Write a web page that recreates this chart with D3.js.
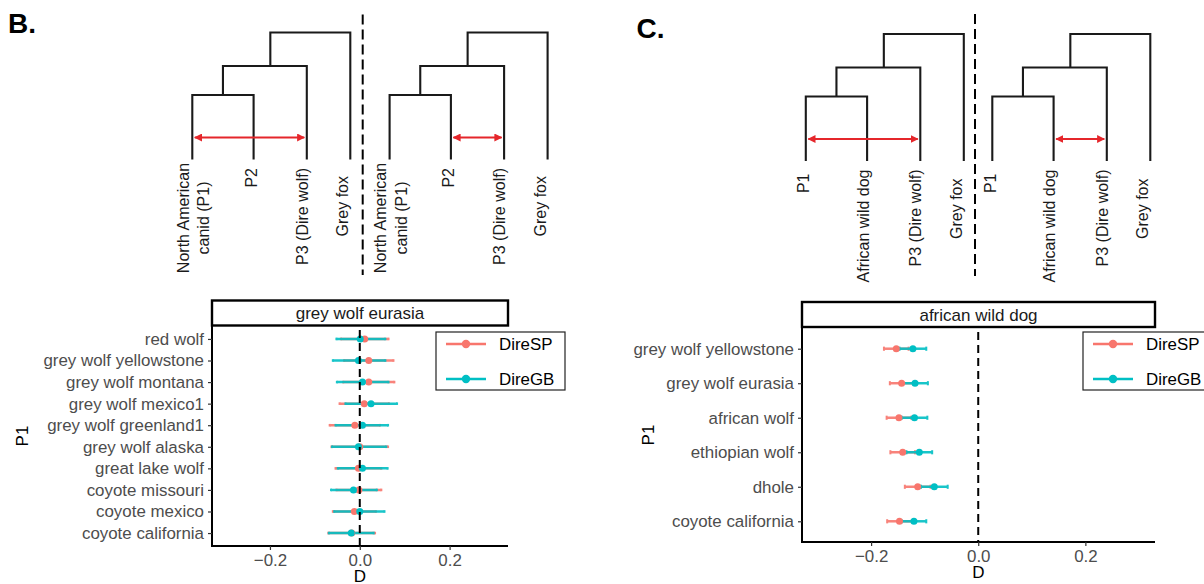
<!DOCTYPE html>
<html>
<head>
<meta charset="utf-8">
<script src="https://cdn.jsdelivr.net/npm/d3@7"></script>
<style>
  body { margin: 0; background: #fff; }
  svg { display: block; }
  text { font-family: "Liberation Sans", Arial, Helvetica, sans-serif; }
</style>
</head>
<body>
<svg id="fig" width="1204" height="584"></svg>
<script>
// ---- Panel B: P2 = grey wolf eurasia ----
const catsB = ["red wolf", "grey wolf yellowstone", "grey wolf montana", "grey wolf mexico1",
  "grey wolf greenland1", "grey wolf alaska", "great lake wolf", "coyote missouri",
  "coyote mexico", "coyote california"];
const dSpB   = [0.011, 0.020, 0.020, 0.010, -0.011, 0.000, -0.003, -0.002, -0.012, -0.018];
const loSpB  = [-0.042, -0.035, -0.037, -0.045, -0.067, -0.063, -0.054, -0.052, -0.060, -0.070];
const hiSpB  = [0.064, 0.075, 0.077, 0.065, 0.045, 0.063, 0.048, 0.048, 0.036, 0.034];
const dGbB   = [0.001, -0.003, 0.006, 0.025, 0.006, -0.003, 0.006, -0.014, 0.000, -0.019];
const loGbB  = [-0.052, -0.060, -0.051, -0.032, -0.054, -0.062, -0.049, -0.064, -0.057, -0.069];
const hiGbB  = [0.057, 0.057, 0.064, 0.083, 0.063, 0.059, 0.062, 0.038, 0.055, 0.031];

// ---- Panel C: P2 = african wild dog ----
const catsC = ["grey wolf yellowstone", "grey wolf eurasia", "african wolf", "ethiopian wolf",
  "dhole", "coyote california"];
const dSpC   = [-0.153, -0.143, -0.148, -0.141, -0.113, -0.147];
const loSpC  = [-0.176, -0.165, -0.171, -0.164, -0.137, -0.170];
const hiSpC  = [-0.130, -0.121, -0.125, -0.118, -0.089, -0.124];
const dGbC   = [-0.122, -0.118, -0.119, -0.110, -0.082, -0.120];
const loGbC  = [-0.147, -0.142, -0.143, -0.134, -0.107, -0.143];
const hiGbC  = [-0.097, -0.094, -0.095, -0.086, -0.057, -0.097];

const seriesNames  = ["DireSP", "DireGB"];
const seriesColors = ["#F8766D", "#00BFC4"];
const xTickValues  = [-0.2, 0, 0.2];
const xTickLabels  = ["\u22120.2", "0.0", "0.2"];
const xDomain      = [-0.329, 0.330];

const svg = d3.select("#fig");

// ---------- dot-and-whisker panel ----------
function drawPanel(p) {
  const g = svg.append("g");
  const x = d3.scaleLinear().domain(xDomain).range([p.left, p.right]);
  const y = d3.scalePoint().domain(p.cats).range([p.top, p.bottom]).padding(0.6);
  const cap = y.step() * 0.06;

  // strip
  g.append("rect").attr("x", p.left).attr("y", p.stripTop)
    .attr("width", p.right - p.left).attr("height", p.stripBottom - p.stripTop)
    .attr("fill", "#fff").attr("stroke", "#000").attr("stroke-width", 2.4);
  g.append("text").attr("x", (p.left + p.right) / 2).attr("y", (p.stripTop + p.stripBottom) / 2)
    .attr("dy", "0.36em").attr("text-anchor", "middle").attr("font-size", 17)
    .attr("fill", "#1a1a1a").text(p.title);

  const series = [
    { d: p.sp, lo: p.spLo, hi: p.spHi, color: seriesColors[0] },
    { d: p.gb, lo: p.gbLo, hi: p.gbHi, color: seriesColors[1] }
  ];

  // error bars (both series) then points (both series)
  series.forEach(s => {
    const eb = g.append("g").attr("stroke", s.color).attr("stroke-width", 2.5)
      .attr("fill", "none").attr("opacity", 0.9);
    p.cats.forEach((c, i) => {
      const yy = y(c);
      eb.append("line").attr("x1", x(s.lo[i])).attr("x2", x(s.hi[i])).attr("y1", yy).attr("y2", yy);
      [s.lo[i], s.hi[i]].forEach(v => {
        eb.append("line").attr("x1", x(v)).attr("x2", x(v))
          .attr("y1", yy - cap).attr("y2", yy + cap).attr("stroke-width", 2);
      });
    });
  });
  series.forEach(s => {
    g.append("g").selectAll("circle").data(p.cats).join("circle")
      .attr("cx", (c, i) => x(s.d[i])).attr("cy", c => y(c))
      .attr("r", 3.5).attr("fill", s.color);
  });

  // zero reference line
  g.append("line").attr("x1", x(0)).attr("x2", x(0))
    .attr("y1", p.top + 4).attr("y2", p.bottom)
    .attr("stroke", "#000").attr("stroke-width", 2).attr("stroke-dasharray", "8,5");

  // axes
  const yAxis = g.append("g").attr("transform", `translate(${p.left},0)`)
    .call(d3.axisLeft(y).tickSize(4).tickPadding(4));
  const xAxis = g.append("g").attr("transform", `translate(0,${p.bottom})`)
    .call(d3.axisBottom(x).tickValues(xTickValues).tickFormat((d, i) => xTickLabels[i])
      .tickSize(4).tickPadding(4));
  [yAxis, xAxis].forEach(a => {
    a.select(".domain").attr("stroke", "#000").attr("stroke-width", 2);
    a.selectAll(".tick line").attr("stroke", "#333").attr("stroke-width", 1.2);
    a.selectAll(".tick text").attr("fill", "#4D4D4D").attr("font-size", 16.9)
      .attr("font-family", '"Liberation Sans", Arial, sans-serif');
  });
  // no outer tick caps on the domain paths
  yAxis.select(".domain").attr("d", `M0,${p.top - 1}V${p.bottom}`);
  xAxis.select(".domain").attr("d", `M${p.left - 1},0H${p.right}`);

  // axis titles
  g.append("text").attr("x", (p.left + p.right) / 2).attr("y", p.bottom + 35.5)
    .attr("text-anchor", "middle").attr("font-size", 17).attr("fill", "#000").text("D");
  g.append("text").attr("transform", `translate(${p.yTitleX},${(p.top + p.bottom) / 2}) rotate(-90)`)
    .attr("text-anchor", "middle").attr("dy", "0.36em").attr("font-size", 17)
    .attr("fill", "#000").text("P1");

  // legend
  const lx = p.right - 72, ly = 332;
  const lg = g.append("g").attr("transform", `translate(${lx},${ly})`);
  lg.append("rect").attr("width", 129).attr("height", 58)
    .attr("fill", "#fff").attr("stroke", "#222").attr("stroke-width", 1.2);
  seriesNames.forEach((name, i) => {
    const ky = 12 + i * 35;
    lg.append("line").attr("x1", 10).attr("x2", 50).attr("y1", ky).attr("y2", ky)
      .attr("stroke", seriesColors[i]).attr("stroke-width", 2.5);
    lg.append("circle").attr("cx", 30).attr("cy", ky).attr("r", 4.2).attr("fill", seriesColors[i]);
    lg.append("text").attr("x", 63).attr("y", ky).attr("dy", "0.36em")
      .attr("font-size", 16.9).attr("fill", "#000").text(name);
  });
}

drawPanel({
  title: "grey wolf eurasia", cats: catsB,
  sp: dSpB, spLo: loSpB, spHi: hiSpB, gb: dGbB, gbLo: loGbB, gbHi: hiGbB,
  left: 212, right: 508, top: 326, bottom: 546, stripTop: 300.5, stripBottom: 325.5, yTitleX: 22
});
drawPanel({
  title: "african wild dog", cats: catsC,
  sp: dSpC, spLo: loSpC, spHi: hiSpC, gb: dGbC, gbLo: loGbC, gbHi: hiGbC,
  left: 802, right: 1155, top: 328, bottom: 542, stripTop: 302, stripBottom: 327, yTitleX: 648
});

// ---------- four-taxon trees ----------
const leafOffsets = [0, 61.3, 114.5, 158];
const arrowRed = "#E5262B";

svg.append("defs").append("marker").attr("id", "head")
  .attr("viewBox", "0 0 10 10").attr("refX", 9).attr("refY", 5)
  .attr("markerWidth", 4).attr("markerHeight", 4).attr("orient", "auto-start-reverse")
  .attr("markerUnits", "strokeWidth")
  .append("path").attr("d", "M0,0L10,5L0,10Z").attr("fill", arrowRed);

function drawTree(x0, yTop, leafLabels, arrowPair) {
  const g = svg.append("g");
  const lx = leafOffsets.map(o => x0 + o);
  const yLeaf = yTop + 127;
  const levelY = [yTop, yTop + 33.5, yTop + 62.5];
  // (((A,B),C),D)
  const n1 = { x: lx[0] + 0.5 * (lx[1] - lx[0]), y: levelY[2] };
  const n2 = { x: n1.x + 0.565 * (lx[2] - n1.x), y: levelY[1] };
  const joins = [
    { a: { x: lx[0], y: yLeaf }, b: { x: lx[1], y: yLeaf }, y: levelY[2] },
    { a: n1, b: { x: lx[2], y: yLeaf }, y: levelY[1] },
    { a: n2, b: { x: lx[3], y: yLeaf }, y: levelY[0] }
  ];
  const path = d3.path();
  joins.forEach(j => {
    path.moveTo(j.a.x, j.a.y); path.lineTo(j.a.x, j.y);
    path.lineTo(j.b.x, j.y); path.lineTo(j.b.x, j.b.y);
  });
  g.append("path").attr("d", path.toString()).attr("fill", "none")
    .attr("stroke", "#1a1a1a").attr("stroke-width", 2.1).attr("stroke-linejoin", "miter");

  // introgression arrow
  const ay = yTop + 105;
  g.append("line").attr("x1", lx[arrowPair[0]] + 2.5).attr("x2", lx[arrowPair[1]] - 2.5)
    .attr("y1", ay).attr("y2", ay).attr("stroke", arrowRed).attr("stroke-width", 2)
    .attr("marker-start", "url(#head)").attr("marker-end", "url(#head)");

  // leaf labels (vertical)
  leafLabels.forEach((lab, i) => {
    if (lab.lines.length === 2) {
      const cy = yTop + 185.5;
      lab.lines.forEach((t, k) => {
        g.append("text").attr("transform", `translate(${lx[i] + lab.dx[k]},${cy}) rotate(-90)`)
          .attr("text-anchor", "middle").attr("font-size", 16).attr("fill", "#1a1a1a").text(t);
      });
    } else {
      g.append("text")
        .attr("transform", `translate(${lx[i] + lab.dx[0]},${yTop + 135.5 + (lab.drop || 0)}) rotate(-90)`)
        .attr("text-anchor", "end").attr("font-size", 16).attr("fill", "#1a1a1a").text(lab.lines[0]);
    }
  });
}

const labelsB = [
  { lines: ["North American", "canid (P1)"], dx: [-3.7, 17] },
  { lines: ["P2"], dx: [3] },
  { lines: ["P3 (Dire wolf)"], dx: [1] },
  { lines: ["Grey fox"], dx: [-2], drop: 8 }
];
const labelsC = [
  { lines: ["P1"], dx: [3.5], drop: 4 },
  { lines: ["African wild dog"], dx: [1.5] },
  { lines: ["P3 (Dire wolf)"], dx: [1] },
  { lines: ["Grey fox"], dx: [-2], drop: 9 }
];

drawTree(192.3, 32.5, labelsB, [0, 2]);
drawTree(389.6, 32.5, labelsB, [1, 2]);
drawTree(805.8, 34, labelsC, [0, 2]);
drawTree(992.3, 34, labelsC, [1, 2]);

// separators between the two trees of each panel
[[362.7, 14.5, 275], [975, 14, 276]].forEach(([sx, y1, y2]) => {
  svg.append("line").attr("x1", sx).attr("x2", sx).attr("y1", y1).attr("y2", y2)
    .attr("stroke", "#000").attr("stroke-width", 2).attr("stroke-dasharray", "10,5");
});

// panel letters
svg.append("text").attr("x", 8).attr("y", 32.7).attr("font-size", 28)
  .attr("font-weight", "bold").attr("fill", "#000").text("B.");
svg.append("text").attr("x", 636.5).attr("y", 38).attr("font-size", 28)
  .attr("font-weight", "bold").attr("fill", "#000").text("C.");
</script>
</body>
</html>
